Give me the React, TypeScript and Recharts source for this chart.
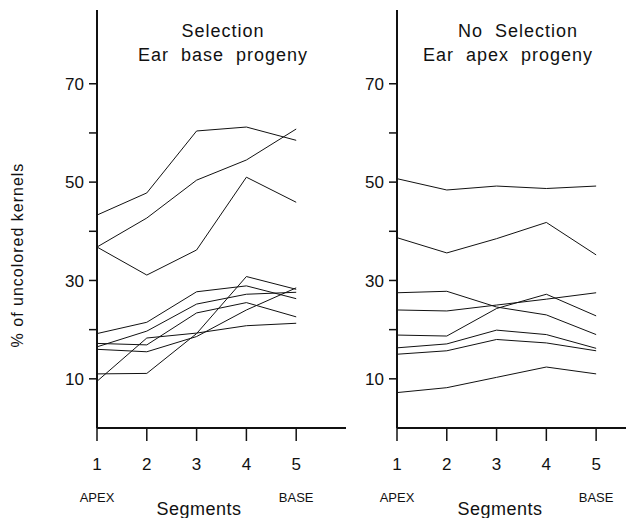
import React from 'react';
import { LineChart, Line, XAxis, YAxis } from 'recharts';

// segment positions along the ear (1 = apex, 5 = base)
const segments = [1, 2, 3, 4, 5];
const yTicks = [10, 20, 30, 40, 50, 60, 70];
const yLabelled = [10, 30, 50, 70];

// Selection, ear base progeny (% of uncolored kernels)
const sel1 = [43.3, 47.8, 60.4, 61.2, 58.5];
const sel2 = [36.8, 42.7, 50.4, 54.5, 60.8];
const sel3 = [36.8, 31.1, 36.2, 51.0, 45.9];
const sel4 = [19.2, 21.5, 27.7, 28.9, 26.3];
const sel5 = [16.5, 19.7, 25.2, 27.2, 27.6];
const sel6 = [17.2, 16.9, 23.4, 25.5, 22.6];
const sel7 = [16.0, 15.5, 18.6, 24.0, 28.5];
const sel8 = [11.0, 11.1, 19.2, 30.8, 28.2];
const sel9 = [9.5, 18.3, 19.3, 20.8, 21.3];

// No selection, ear apex progeny
const ns1 = [50.7, 48.4, 49.2, 48.7, 49.2];
const ns2 = [38.7, 35.6, 38.5, 41.8, 35.2];
const ns3 = [27.5, 27.8, 24.6, 23.0, 19.0];
const ns4 = [24.0, 23.8, 25.0, 26.2, 27.5];
const ns5 = [18.9, 18.7, 24.3, 27.2, 22.8];
const ns6 = [16.3, 17.1, 19.9, 19.0, 16.2];
const ns7 = [15.0, 15.7, 18.0, 17.3, 15.7];
const ns8 = [7.2, 8.2, 10.3, 12.4, 11.0];

const selSeries = [sel1, sel2, sel3, sel4, sel5, sel6, sel7, sel8, sel9];
const nsSeries = [ns1, ns2, ns3, ns4, ns5, ns6, ns7, ns8];

function buildRows(series: number[][]) {
  return segments.map((seg, i) => {
    const row: Record<string, number> = { seg };
    series.forEach((s, k) => {
      row['s' + k] = s[i];
    });
    return row;
  });
}

const FONT = '"Liberation Sans", Arial, sans-serif';

const SegTick = (props: any) => {
  const { x, y, payload } = props;
  const v = payload.value;
  return (
    <g>
      <text x={x} y={y + 29} textAnchor="middle" fontSize={17} fontFamily={FONT} fill="#111">
        {v}
      </text>
      {v === 1 && (
        <text x={x} y={y + 61} textAnchor="middle" fontSize={13} fontFamily={FONT} fill="#111">
          APEX
        </text>
      )}
      {v === 5 && (
        <text x={x} y={y + 61} textAnchor="middle" fontSize={13} fontFamily={FONT} fill="#111">
          BASE
        </text>
      )}
    </g>
  );
};

interface PanelProps {
  series: number[][];
  left: number;
  width: number;
  axisWidth: number;
  xMax: number;
}

const Panel: React.FC<PanelProps> = ({ series, left, width, axisWidth, xMax }) => {
  const rows = buildRows(series);
  return (
    <div style={{ position: 'absolute', left, top: 0 }}>
      <LineChart width={width} height={518} data={rows} margin={{ top: 10, right: 0, bottom: 0, left: 0 }}>
        <XAxis
          dataKey="seg"
          type="number"
          domain={[1, xMax]}
          ticks={segments}
          allowDataOverflow
          height={90}
          tickSize={13}
          tickMargin={0}
          tick={<SegTick />}
          axisLine={{ stroke: '#111', strokeWidth: 2 }}
          tickLine={{ stroke: '#111', strokeWidth: 1.5 }}
        />
        <YAxis
          type="number"
          domain={[0, 85]}
          ticks={yTicks}
          width={axisWidth}
          tickSize={8}
          tickMargin={5}
          tickFormatter={(v: number) => (yLabelled.includes(v) ? String(v) : '')}
          tick={{ fontSize: 17, fill: '#111', fontFamily: FONT }}
          axisLine={{ stroke: '#111', strokeWidth: 2 }}
          tickLine={{ stroke: '#111', strokeWidth: 1.5 }}
        />
        {series.map((_, k) => (
          <Line
            key={k}
            dataKey={'s' + k}
            type="linear"
            stroke="#111"
            strokeWidth={1}
            dot={false}
            isAnimationActive={false}
          />
        ))}
      </LineChart>
    </div>
  );
};

const titleStyle: React.CSSProperties = {
  position: 'absolute',
  fontFamily: FONT,
  fontSize: 18,
  letterSpacing: 1,
  wordSpacing: 6,
  color: '#111',
  whiteSpace: 'nowrap',
  transform: 'translateX(-50%)',
  lineHeight: '18px',
};

const segStyle: React.CSSProperties = {
  ...titleStyle,
  fontSize: 18,
  letterSpacing: 0.5,
};

export default function App() {
  return (
    <div style={{ position: 'absolute', left: 0, top: 0, width: 626, height: 518, background: '#fff', overflow: 'hidden' }}>
      <Panel series={selSeries} left={0} width={346} axisWidth={97} xMax={6} />
      <Panel series={nsSeries} left={350} width={276} axisWidth={47} xMax={5.6} />

      <div style={{ ...titleStyle, left: 223, top: 22 }}>Selection</div>
      <div style={{ ...titleStyle, left: 223, top: 46 }}>Ear base progeny</div>
      <div style={{ ...titleStyle, left: 518, top: 22 }}>No Selection</div>
      <div style={{ ...titleStyle, left: 508, top: 46 }}>Ear apex progeny</div>

      <div style={{ ...segStyle, left: 199, top: 500 }}>Segments</div>
      <div style={{ ...segStyle, left: 500, top: 500 }}>Segments</div>

      <div
        style={{
          position: 'absolute',
          left: 18,
          top: 255,
          fontFamily: FONT,
          fontSize: 16,
          letterSpacing: 1,
          color: '#111',
          whiteSpace: 'nowrap',
          transform: 'translate(-50%, -50%) rotate(-90deg)',
        }}
      >
        % of uncolored kernels
      </div>
    </div>
  );
}
